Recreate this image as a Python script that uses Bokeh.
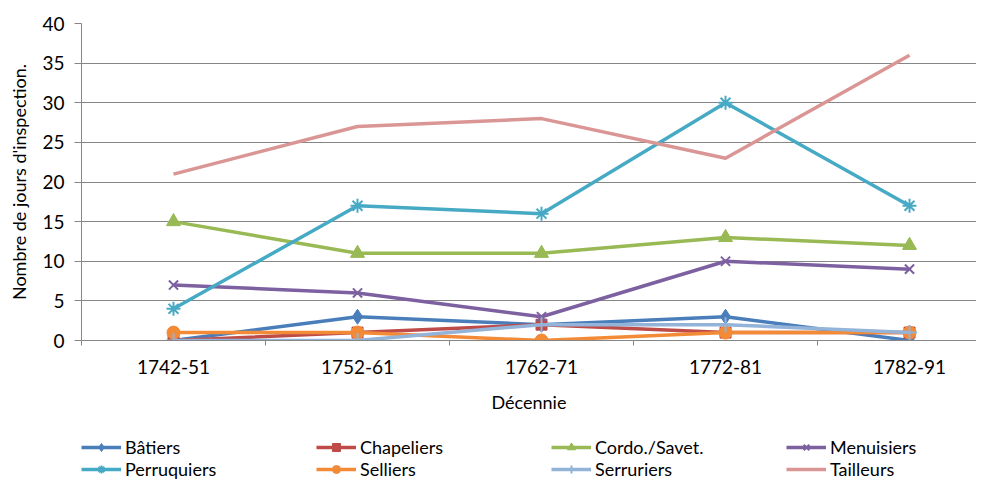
from bokeh.plotting import figure
from bokeh.layouts import column
from bokeh.models import Range1d, FixedTicker, Legend, LegendItem
from bokeh.embed import file_html
from bokeh.resources import INLINE

decades = ["1742-51", "1752-61", "1762-71", "1772-81", "1782-91"]
batiers = [0, 3, 2, 3, 0]
chapeliers = [0, 1, 2, 1, 1]
cordo = [15, 11, 11, 13, 12]
menuisiers = [7, 6, 3, 10, 9]
perruquiers = [4, 17, 16, 30, 17]
selliers = [1, 1, 0, 1, 1]
serruriers = [0, 0, 2, 2, 1]
tailleurs = [21, 27, 28, 23, 36]
y_ticks = [0, 5, 10, 15, 20, 25, 30, 35, 40]

series = [
    ("Bâtiers", batiers, "#4A7EBB", "diamond", 15),
    ("Chapeliers", chapeliers, "#BE4B48", "square", 11),
    ("Cordo./Savet.", cordo, "#98B954", "triangle", 14),
    ("Menuisiers", menuisiers, "#7D60A0", "x", 13),
    ("Perruquiers", perruquiers, "#46AAC5", "asterisk", 14),
    ("Selliers", selliers, "#F38A35", "circle", 13),
    ("Serruriers", serruriers, "#93B3D8", "cross", 15),
    ("Tailleurs", tailleurs, "#D99694", None, 0),
]

FONT = "Lato"
xs = list(range(len(decades)))

p = figure(width=976, height=430, output_backend="svg", toolbar_location=None,
           x_range=Range1d(-0.5, 4.364), y_range=Range1d(0, 40),
           min_border_left=81, min_border_right=0, min_border_top=23,
           min_border_bottom=90)
p.outline_line_color = None
p.background_fill_color = "white"
p.border_fill_color = "white"

p.xgrid.grid_line_color = None
p.ygrid.grid_line_color = "#868686"
p.ygrid.grid_line_width = 1

p.yaxis.ticker = FixedTicker(ticks=y_ticks)
p.xaxis.ticker = FixedTicker(ticks=xs, minor_ticks=[i - 0.5 for i in range(len(decades) + 1)])
p.xaxis.major_label_overrides = {i: d for i, d in enumerate(decades)}

for ax in (p.xaxis[0], p.yaxis[0]):
    ax.axis_line_color = "#868686"
    ax.major_tick_line_color = "#868686"
    ax.minor_tick_line_color = "#868686"
    ax.major_label_text_font = FONT
    ax.major_label_text_font_size = "19px"
    ax.major_label_text_color = "#000000"
    ax.axis_label_text_font = FONT
    ax.axis_label_text_font_size = "18px"
    ax.axis_label_text_font_style = "normal"
    ax.axis_label_text_color = "#000000"

p.xaxis.major_tick_out = 0
p.xaxis.major_tick_in = 0
p.xaxis.minor_tick_out = 5
p.xaxis.minor_tick_in = 0
p.xaxis.major_label_standoff = 14
p.xaxis.axis_label = "Décennie"
p.xaxis.axis_label_standoff = 14

p.yaxis.major_tick_out = 7
p.yaxis.major_tick_in = 0
p.yaxis.minor_tick_line_color = None
p.yaxis.major_label_standoff = 10
p.yaxis.axis_label = "Nombre de jours d'inspection."
p.yaxis.axis_label_standoff = 9

# legend strip below the chart (its renderers lie outside its visible range)
lg = figure(width=976, height=51, output_backend="svg", toolbar_location=None,
            x_axis_type=None, y_axis_type=None,
            x_range=Range1d(-100, -99), y_range=Range1d(-100, -99),
            min_border_left=0, min_border_right=0, min_border_top=0,
            min_border_bottom=0)
lg.outline_line_color = None
lg.xgrid.grid_line_color = None
lg.ygrid.grid_line_color = None

items = []
for name, vals, color, marker, size in series:
    p.line(xs, vals, line_color=color, line_width=3.5)
    rs = [lg.line(xs, vals, line_color=color, line_width=3.5)]
    if marker:
        lw = 2 if marker in ("x", "asterisk", "cross") else 1
        p.scatter(xs, vals, marker=marker, size=size, fill_color=color,
                  line_color=color, line_width=lw)
        rs.append(lg.scatter(xs, vals, marker=marker, size=size - 2, fill_color=color,
                             line_color=color, line_width=lw))
    items.append(LegendItem(label=name, renderers=rs))

legend = Legend(items=items, location=(0, 1), orientation="horizontal",
                ncols=4, padding=0, margin=0, spacing=0,
                glyph_width=40, glyph_height=20, label_height=20,
                label_width=191, label_standoff=4,
                label_text_font=FONT, label_text_font_size="18px",
                label_text_color="#000000",
                border_line_color=None, background_fill_alpha=0)
lg.add_layout(legend, "center")

layout = column(p, lg, spacing=0)
open("out.html", "w").write(file_html(layout, INLINE))
